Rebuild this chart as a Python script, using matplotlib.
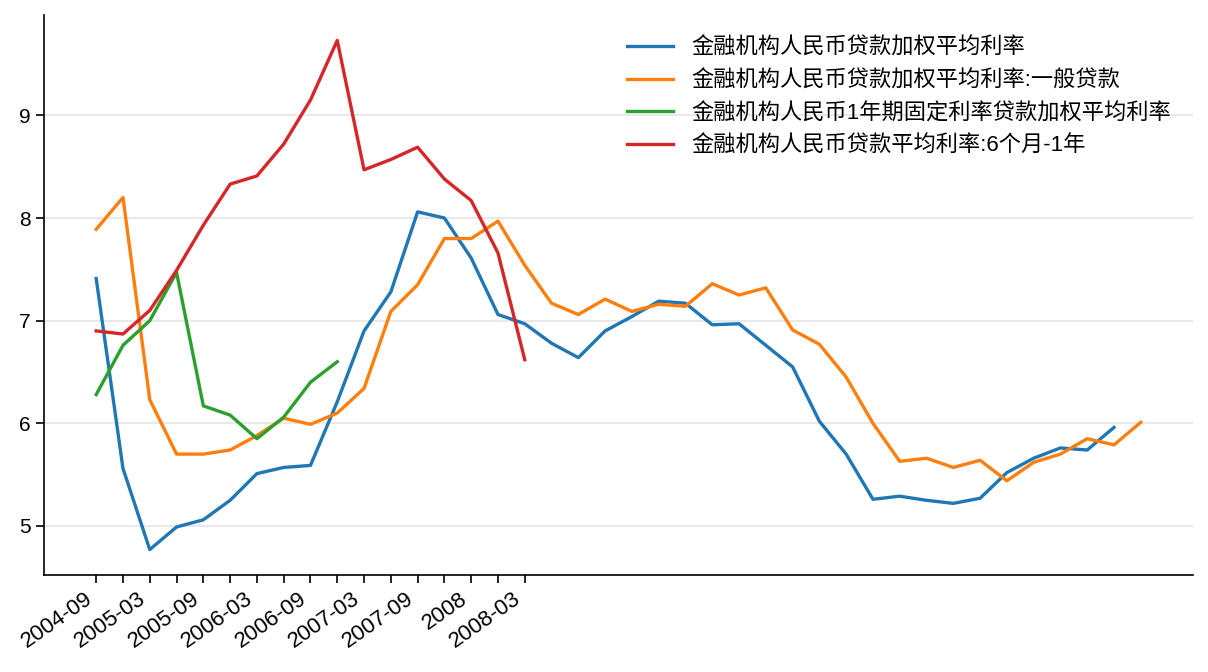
import matplotlib
matplotlib.use('Agg')
import matplotlib.pyplot as plt
import numpy as np

plt.rcParams['font.family'] = ['Liberation Sans', 'Noto Sans CJK SC', 'DejaVu Sans']
plt.rcParams['axes.unicode_minus'] = False

# tick labels for the first 17 periods (every other one is left blank)
tick_labels = ['2004-09', '', '2005-03', '', '2005-09', '', '2006-03', '', '2006-09',
               '', '2007-03', '', '2007-09', '', '2008', '', '2008-03']

names = ['金融机构人民币贷款加权平均利率',
         '金融机构人民币贷款加权平均利率:一般贷款',
         '金融机构人民币1年期固定利率贷款加权平均利率',
         '金融机构人民币贷款平均利率:6个月-1年']

weighted_avg = [7.41, 5.56, 4.77, 4.99, 5.06, 5.25, 5.51, 5.57, 5.59, 6.21,
                6.90, 7.28, 8.06, 8.00, 7.61, 7.06, 6.97, 6.78, 6.64, 6.90,
                7.04, 7.19, 7.17, 6.96, 6.97, 6.76, 6.55, 6.02, 5.70, 5.26,
                5.29, 5.25, 5.22, 5.27, 5.52, 5.66, 5.76, 5.74, 5.96]

general_loan = [7.89, 8.20, 6.23, 5.70, 5.70, 5.74, 5.88, 6.05, 5.99, 6.10,
                6.34, 7.09, 7.35, 7.80, 7.80, 7.97, 7.54, 7.17, 7.06, 7.21,
                7.09, 7.16, 7.14, 7.36, 7.25, 7.32, 6.91, 6.77, 6.45, 6.00,
                5.63, 5.66, 5.57, 5.64, 5.44, 5.62, 5.70, 5.85, 5.79, 6.01]

fixed_1y = [6.28, 6.76, 7.00, 7.47, 6.17, 6.08, 5.85, 6.06, 6.40, 6.60]

avg_6m_1y = [6.90, 6.87, 7.10, 7.49, 7.93, 8.33, 8.41, 8.72, 9.15, 9.73,
             8.47, 8.57, 8.69, 8.38, 8.17, 7.66, 6.62]

colors = ['#1f77b4', '#ff7f0e', '#2ca02c', '#d62728']


def main():
    fig = plt.figure(figsize=(12.08, 6.72), dpi=100)
    ax = fig.add_axes([0.0364, 0.1443, 0.9512, 0.8334])

    series = [weighted_avg, general_loan, fixed_1y, avg_6m_1y]
    for vals, name, c in zip(series, names, colors):
        ax.plot(np.arange(len(vals)), vals, color=c, lw=2.4, label=name)

    ax.set_xticks(np.arange(len(tick_labels)))
    ax.set_xticklabels(tick_labels, rotation=35, ha='right', fontsize=16)
    ax.set_yticks([5, 6, 7, 8, 9])
    ax.tick_params(axis='y', labelsize=15)
    ax.tick_params(length=6, width=1.2)

    ax.grid(axis='y', color='#e5e5e5', lw=1.2)
    ax.set_axisbelow(True)
    for s in ['top', 'right']:
        ax.spines[s].set_visible(False)
    for s in ['left', 'bottom']:
        ax.spines[s].set_linewidth(1.2)

    ax.legend(loc='upper right', frameon=False, fontsize=16, borderaxespad=0.6,
              handlelength=2.1, handletextpad=0.8, labelspacing=0.52)

    fig.savefig('out.png', dpi=100)


if __name__ == '__main__':
    main()
